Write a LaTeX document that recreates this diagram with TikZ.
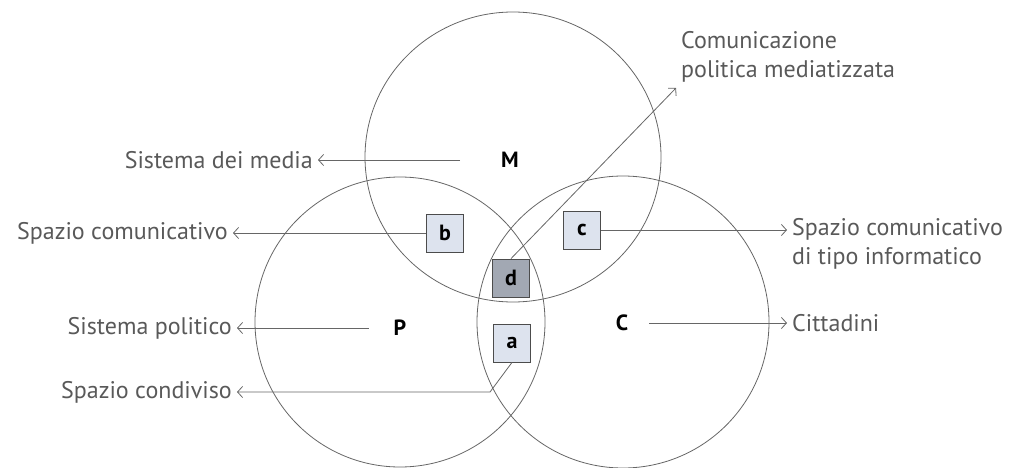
\documentclass[tikz,border=0pt]{standalone}
\usepackage{fontspec}
\setmainfont{PT Sans}
\usetikzlibrary{arrows.meta}
\colorlet{rule}{black!60}
\colorlet{ink}{black!65}
\definecolor{zonefill}{HTML}{DDE3EE}
\definecolor{zonedark}{HTML}{A2A8B3}
\tikzset{
  ring/.style    ={draw=rule, line width=0.8pt},
  setname/.style ={font=\fontsize{22}{26}\selectfont\bfseries, inner sep=1pt},
  zone/.style    ={draw=black!70, fill=zonefill, line width=0.8pt,
                   minimum width=37pt, minimum height=38pt, inner sep=0pt,
                   font=\fontsize{22}{26}\selectfont\bfseries},
  zone-d/.style  ={zone, fill=zonedark},
  caption/.style ={text=ink, font=\fontsize{24}{29}\selectfont,
                   inner sep=5pt, align=left},
  pointer/.style ={-{Straight Barb[length=5pt, width=11pt]}, rule,
                   line width=0.8pt},
}

\begin{document}
\begin{tikzpicture}[x=1pt, y=-1pt]
\useasboundingbox (0,0) rectangle (1033,468);

% the three sets
\draw[ring] (513,157) ellipse [x radius=148, y radius=145];
\draw[ring] (400,322) circle [radius=145];
\draw[ring] (623,322) circle [radius=146];

\node[setname] (M) at (510,160) {M};
\node[setname] (P) at (400,328) {P};
\node[setname] (C) at (622,323) {C};

% overlaps
\node[zone]   (b) at (445,233) {b};
\node[zone]   (c) at (582,230) {c};
\node[zone-d] (d) at (511,278) {d};
\node[zone]   (a) at (512,343) {a};

% captions
\node[caption, anchor=east]       (media) at (318,160) {Sistema dei media};
\node[caption, anchor=east]       (spcom) at (233,233) {Spazio comunicativo};
\node[caption, anchor=east]       (pol)   at (237,328) {Sistema politico};
\node[caption, anchor=east]       (cond)  at (237,392) {Spazio condiviso};
\node[caption, anchor=south west] (medz)  at (676,88)
  {Comunicazione\\politica mediatizzata};
\node[caption, anchor=north west] (info)  at (787,213)
  {Spazio comunicativo\\di tipo informatico};
\node[caption, anchor=west]       (citt)  at (787,323) {Cittadini};

\coordinate (bend) at (490,392);

\draw[pointer, shorten <=40pt] (M.west) -- (media.east);
\draw[pointer] (b.west) -- (spcom.east);
\draw[pointer, shorten <=24pt] (P.west) -- (pol.east);
\draw[pointer] (a.south) -- (bend) -- (cond.east);
\draw[pointer] (d.north) -- (medz.south west);
\draw[pointer] (c.east) -- (c.east -| info.west);
\draw[pointer, shorten <=20pt] (C.east) -- (citt.west);

\end{tikzpicture}
\end{document}
